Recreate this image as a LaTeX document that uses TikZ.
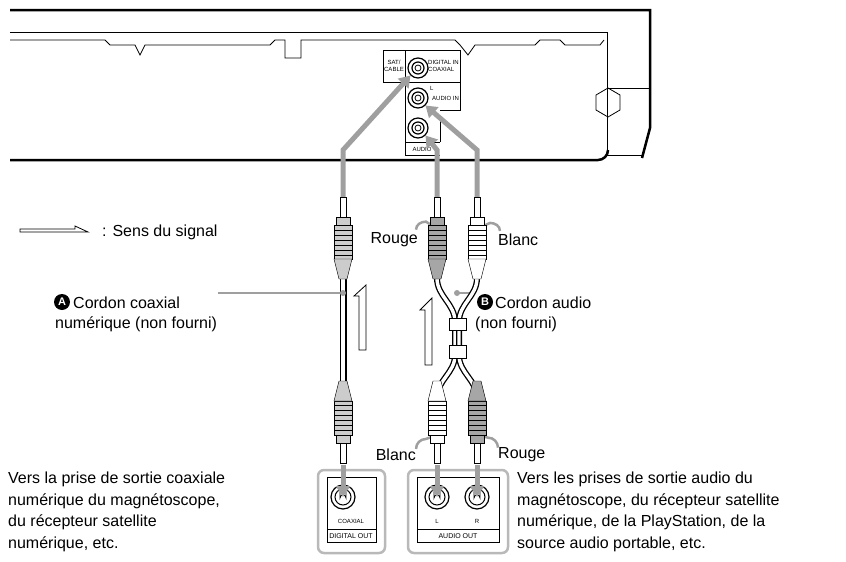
\documentclass[tikz,border=0pt]{standalone}
\usepackage{fontspec}
\setmainfont{Liberation Sans}
\usetikzlibrary{arrows.meta, positioning, calc}

\tikzset{
    sig/.style={draw=gray!75, line width=5pt, -{Triangle[length=11pt,width=14pt]}},
    lead/.style={draw=gray!75, line width=2.5pt},
    lbl/.style={font=\fontsize{16}{20}\selectfont, inner sep=0pt},
    tiny/.style={font=\fontsize{6}{7}\selectfont, inner sep=0pt},
    jack/.style={circle, draw, line width=1.2pt, minimum size=20pt, inner sep=0pt},
    badge/.style={circle, fill=black, text=white, font=\fontsize{11}{11}\bfseries, inner sep=0pt, minimum size=16pt},
    hollow/.style={draw, fill=white, line width=0.8pt}
}
% RCA plug, pin at the origin, body going down
\newcommand\rcaplug[1]{%
    \draw[fill=white] (-3,0) rectangle (3,20);
    \draw[fill=#1] (-7,20) rectangle (7,28);
    \draw[fill=#1] (-9,28) rectangle (9,62);
    \foreach \k in {33,38,...,58} \draw (-9,\k) -- (9,\k);
    \draw[fill=#1] (-9,62) -- (9,62) -- (4,82) -- (-4,82) -- cycle;
}

\begin{document}
\begin{tikzpicture}[x=1pt, y=-1pt]
\useasboundingbox (0,0) rectangle (846,562);

% device
\draw[line width=2.5pt] (10,10) -- (650,10) -- (650,128) -- (642,158);
\draw[line width=2.5pt] (10,160) -- (598,160) to[out=0,in=-90] (608,150);
\draw[line width=1pt] (10,32) -- (607,32) -- (607,155) -- (642,155);
\draw[line width=0.8pt] (10,40) -- (105,40) -- (110,45) -- (135,45) -- (140,55) -- (145,45)
    -- (270,45) -- (275,40) -- (285,40) -- (285,58) -- (301,58) -- (301,40) -- (455,40)
    -- (460,45) -- (468,55) -- (475,45) -- (535,45) -- (540,40) -- (560,40) -- (565,45)
    -- (600,45) -- (604,40);
\draw[line width=0.8pt] (607,88) -- (650,88);
\draw[line width=0.8pt] (608,88) -- (620,95) -- (620,110) -- (608,117) -- (596,110) -- (596,95) -- cycle;

% input panel
\draw[line width=0.6pt] (383,50) -- (383,82) -- (460,82) -- (460,50) -- cycle;
\draw[line width=0.6pt] (405,50) -- (405,82);
\draw[line width=0.6pt] (405,82) -- (405,155) -- (440,155) (405,142) -- (440,142)
    (440,110) -- (460,110) -- (460,82) (440,120) -- (440,142);
\node[tiny, align=center] (satcable) at (394,66) {SAT/\\CABLE};
\node[tiny, align=left, anchor=west] (digin) at (428,66) {DIGITAL IN\\COAXIAL};
\node[tiny, anchor=west] (audioinl) at (430,88) {L};
\node[tiny, anchor=west] (audioin) at (432,98) {AUDIO IN};
\node[tiny] (audiolbl) at (422,149) {AUDIO};
\foreach \n/\yy in {coaxin/68, lin/98, rin/128} {
    \node[jack] (\n) at (418,\yy) {};
    \draw[line width=1.2pt] (418,\yy) circle (6pt);
    \draw[line width=0.8pt] (418,\yy) circle (3pt);
}

% signal arrows to the panel
\coordinate (coaxtop) at (343,197);
\coordinate (redtop) at (437,197);
\coordinate (whitetop) at (477,197);
\draw[sig] (coaxtop) -- (343,150) -- (coaxin.south west);
\draw[sig] (redtop) -- (437,150) -- (rin.south east);
\draw[sig] (whitetop) -- (477,150) -- (lin.south east);

% leaders
\node[lbl, anchor=east] (rouge1) at (418,240) {Rouge};
\node[lbl, anchor=west] (blanc1) at (498,240) {Blanc};
\draw[lead] (rouge1.north east) ++(-2,-3) to[out=90,in=180] ++(10,-8) -- (437,229);
\draw[lead] (blanc1.north west) ++(2,-3) to[out=90,in=0] ++(-10,-8) -- (477,229);
\node[lbl, anchor=east] (blanc2) at (416,455) {Blanc};
\node[lbl, anchor=west] (rouge2) at (498,455) {Rouge};
\draw[lead] (blanc2.north east) to[out=90,in=180] ++(10,-10) -- (437,435);
\draw[lead] (rouge2.north west) to[out=90,in=0] ++(-10,-10) -- (477,435);
\draw[lead] (218,293) -- (343,293);
\draw[lead] (457,293) -- (474,293);

% coaxial cord
\draw[line width=7pt] (343,275) -- (343,385);
\draw[white, line width=4pt] (343,275) -- (343,385);
\begin{scope}[shift={(343,197)}] \rcaplug{gray!40} \end{scope}
\begin{scope}[shift={(343,463)}, yscale=-1] \rcaplug{gray!40} \end{scope}

% audio cord
\foreach \a/\b in {437/455, 477/459} {
    \draw[line width=6pt] (\a,278) to[out=-90,in=90] (\b,322) -- (\b,355) to[out=-90,in=90] (\a,398);
    \draw[white, line width=3.4pt] (\a,278) to[out=-90,in=90] (\b,322) -- (\b,355) to[out=-90,in=90] (\a,398);
}
\draw[fill=white] (449,318) rectangle (466,330);
\draw[fill=white] (449,345) rectangle (466,358);
\begin{scope}[shift={(437,197)}] \rcaplug{gray!70} \end{scope}
\begin{scope}[shift={(477,197)}] \rcaplug{white} \end{scope}
\begin{scope}[shift={(437,463)}, yscale=-1] \rcaplug{white} \end{scope}
\begin{scope}[shift={(477,463)}, yscale=-1] \rcaplug{gray!70} \end{scope}
\fill[gray!75] (343,293) circle (3pt);
\fill[gray!75] (457,293) circle (3pt);

% signal direction arrows
\draw[hollow] (20,232) -- (88,232) -- (75,226) -- (75,229) -- (20,229) -- cycle;
\draw[hollow] (359,350) -- (359,296) -- (354,296) -- (366,285) -- (366,350) -- cycle;
\draw[hollow] (425,365) -- (425,310) -- (420,310) -- (432,298) -- (432,365) -- cycle;
\node[lbl, anchor=west] (legend) at (102,232) {: Sens du signal};

\node[badge] (badgea) at (62,302) {A};
\node[lbl, anchor=west, align=left] (cordona) at (55,314) {\hspace*{18pt}Cordon coaxial\\numérique (non fourni)};
\node[badge] (badgeb) at (485,302) {B};
\node[lbl, anchor=west, align=left] (cordonb) at (475,314) {\hspace*{20pt}Cordon audio\\(non fourni)};

% output panels
\draw[gray!55, line width=2.5pt, rounded corners=6pt] (318,470) rectangle (385,553);
\draw[gray!55, line width=2.5pt, rounded corners=6pt] (408,470) rectangle (508,553);
\draw[line width=0.6pt] (327,477) rectangle (376,542) (327,529) -- (376,529);
\draw[line width=0.6pt] (417,477) rectangle (499,542) (417,529) -- (499,529);
\foreach \n/\xx in {coaxout/343, lout/437, rout/477} {
    \node[jack, minimum size=24pt] (\n) at (\xx,497) {};
    \draw[line width=1pt] (\xx,497) circle (8pt);
    \draw[line width=0.8pt] (\xx-3,492) -- (\xx-3,498) arc (180:360:3) -- (\xx+3,492);
}
\node[tiny] (coaxlbl) at (351,521) {COAXIAL};
\node[tiny, font=\fontsize{7}{8}\selectfont] (digout) at (351,536) {DIGITAL OUT};
\node[tiny] (llbl) at (437,521) {L};
\node[tiny] (rlbl) at (477,521) {R};
\node[tiny, font=\fontsize{7}{8}\selectfont] (audout) at (458,536) {AUDIO OUT};
\draw[sig] (343,465) -- (coaxout.center);
\draw[sig] (437,465) -- (lout.center);
\draw[sig] (477,465) -- (rout.center);

% descriptions
\node[lbl, anchor=north west, align=left, font=\fontsize{16}{21.5}\selectfont] (descl) at (8,472)
    {Vers la prise de sortie coaxiale\\numérique du magnétoscope,\\du récepteur satellite\\numérique, etc.};
\node[lbl, anchor=north west, align=left, font=\fontsize{16}{21.5}\selectfont] (descr) at (517,472)
    {Vers les prises de sortie audio du\\magnétoscope, du récepteur satellite\\numérique, de la PlayStation, de la\\source audio portable, etc.};
\end{tikzpicture}
\end{document}
